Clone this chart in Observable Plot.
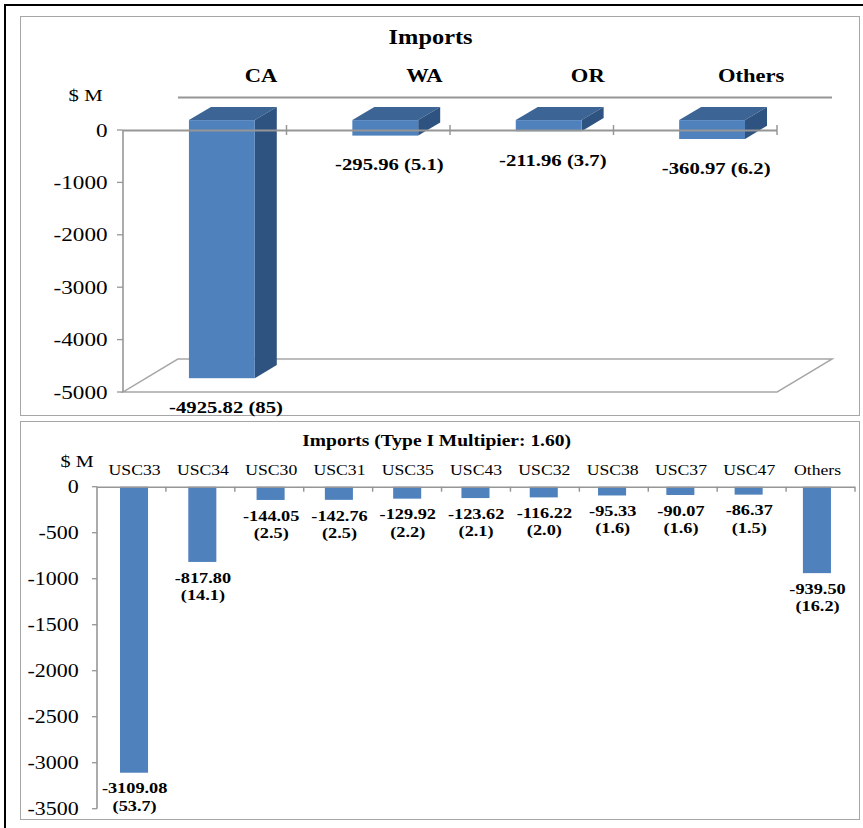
<!DOCTYPE html>
<html>
<head>
<meta charset="utf-8">
<script src="https://cdn.jsdelivr.net/npm/d3@7"></script>
<script src="https://cdn.jsdelivr.net/npm/@observablehq/plot@0.6"></script>
<style>
  body { margin: 0; background: #fff; }
  #root { position: relative; width: 863px; height: 828px; overflow: hidden; background: #fff; }
  .outer { position: absolute; left: 4px; top: 4px; width: 900px; height: 900px; border: 2px solid #000; box-sizing: border-box; }
  .panel { position: absolute; border: 1.5px solid #a6a6a6; box-sizing: border-box; }
  .chart { position: absolute; }
</style>
</head>
<body>
<div id="root">
  <div class="outer"></div>
  <div class="panel" style="left:20px;top:16px;width:840px;height:400px"></div>
  <div class="panel" style="left:20px;top:421px;width:840px;height:399px"></div>
  <div class="chart" id="top" style="left:20px;top:17px;width:839px;height:398px"></div>
  <div class="chart" id="bottom" style="left:20px;top:422px;width:839px;height:397px"></div>
</div>
<script>
// ---------- data ----------
const topTitle = "Imports";
const topStates = ["CA", "WA", "OR", "Others"];
const topValues = [-4925.82, -295.96, -211.96, -360.97];
const topShares = ["85", "5.1", "3.7", "6.2"];
const topTicks = [0, -1000, -2000, -3000, -4000, -5000];

const botTitle = "Imports (Type I Multipier: 1.60)";
const botCats = ["USC33", "USC34", "USC30", "USC31", "USC35", "USC43", "USC32", "USC38", "USC37", "USC47", "Others"];
const botValues = [-3109.08, -817.80, -144.05, -142.76, -129.92, -123.62, -116.22, -95.33, -90.07, -86.37, -939.50];
const botShares = ["53.7", "14.1", "2.5", "2.5", "2.2", "2.1", "2.0", "1.6", "1.6", "1.5", "16.2"];
const botTicks = [0, -500, -1000, -1500, -2000, -2500, -3000, -3500];
const unitLabel = "$ M";

// ---------- layout ----------
const W = 688;              // local svg width
const S = 839 / W;          // horizontal stretch applied to the svg
const FONT = "'Liberation Serif', 'Times New Roman', serif";
const BLUE = "#4F81BD", TOPC = "#3C6596", SIDEC = "#2E5380";
const AXIS = "#969696";

const topData = topStates.map((st, i) => ({st, value: topValues[i], share: topShares[i]}));
const botData = botCats.map((c, i) => ({cat: c, value: botValues[i], share: botShares[i]}));

function finish(svg, el) {
  svg.style.transform = `scaleX(${S})`;
  svg.style.transformOrigin = "0 0";
  svg.style.background = "transparent";
  svg.style.maxWidth = "none";
  svg.style.overflow = "visible";
  svg.style.fontFamily = FONT;
  document.getElementById(el).appendChild(svg);
}

// ---------- top 3D chart ----------
const DX = 55 / S, DY = 33;        // full depth offset (local)
const D0 = 0.3, D1 = 0.7;          // bar depth range

function topDecor(index, scales, values, dims) {
  const {y} = scales;
  const L = dims.marginLeft, R = dims.width - dims.marginRight;
  const g = d3.create("svg:g");
  const yb = y(-5000);
  g.append("path")
    .attr("d", `M${L},${yb}L${L + DX},${yb - DY}L${R + DX},${yb - DY}L${R},${yb}Z`)
    .attr("fill", "none").attr("stroke", "#a6a6a6").attr("stroke-width", 1.5);
  g.append("line").attr("x1", L).attr("x2", L).attr("y1", y(0)).attr("y2", yb)
    .attr("stroke", AXIS).attr("stroke-width", 1.3);
  for (const t of topTicks) {
    g.append("line").attr("x1", L - 6 / S).attr("x2", L).attr("y1", y(t)).attr("y2", y(t))
      .attr("stroke", AXIS).attr("stroke-width", 1.3);
  }
  return g.node();
}

function topFaces(index, scales) {
  const {x, y} = scales;
  const bw = x.bandwidth();
  const g = d3.create("svg:g");
  const P = (xx, yy, d) => `${xx + d * DX},${yy - d * DY}`;
  topData.forEach(d => {
    const x1 = x(d.st), x2 = x1 + bw, y0 = y(0), yv = y(d.value);
    g.append("polygon").attr("points", [P(x1, y0, D0), P(x2, y0, D0), P(x2, y0, D1), P(x1, y0, D1)].join(" "))
      .attr("fill", TOPC);
    g.append("polygon").attr("points", [P(x2, y0, D0), P(x2, y0, D1), P(x2, yv, D1), P(x2, yv, D0)].join(" "))
      .attr("fill", SIDEC);
  });
  return g.node();
}

function topFrontTicks(index, scales, values, dims) {
  const {y} = scales;
  const L = dims.marginLeft, R = dims.width - dims.marginRight;
  const n = topStates.length, step = (R - L) / n;
  const g = d3.create("svg:g");
  for (let i = 1; i <= n; i++) {
    const xx = L + i * step;
    g.append("line").attr("x1", xx).attr("x2", xx).attr("y1", y(0) - 5).attr("y2", y(0) + 5)
      .attr("stroke", AXIS).attr("stroke-width", 1.2);
  }
  return g.node();
}

const topPlot = Plot.plot({
  width: W, height: 398,
  marginTop: 113, marginBottom: 23, marginLeft: 103 / S, marginRight: 82 / S,
  x: {domain: topStates, paddingInner: 0.6, paddingOuter: 0.3, axis: null},
  y: {domain: [-5000, 0], axis: null},
  marks: [
    topDecor,
    Plot.ruleY([0], {dx: DX, dy: -DY, stroke: AXIS, strokeWidth: 2}),
    topFaces,
    Plot.barY(topData, {x: "st", y: "value", fill: BLUE, dx: D0 * DX, dy: -D0 * DY}),
    Plot.ruleY([0], {stroke: AXIS, strokeWidth: 2}),
    topFrontTicks,
    Plot.text(topTicks, {y: d => d, frameAnchor: "left", textAnchor: "end", dx: -16 / S,
      text: d => String(d), fontSize: 19, fontFamily: FONT, fill: "#000"}),
    Plot.text(topData, {x: "st", y: d => 0, text: "st", dx: DX, dy: -54,
      fontSize: 18.5, fontWeight: "bold", fontFamily: FONT, fill: "#000"}),
    Plot.text(topData, {x: "st", y: "value", text: d => `${d.value.toFixed(2)} (${d.share})`,
      dx: 20 / S, dy: 19, fontSize: 17, fontWeight: "bold", fontFamily: FONT, fill: "#000"}),
    Plot.text([topTitle], {frameAnchor: "top", lineAnchor: "middle", dx: -20 / S, dy: -93, text: d => d,
      fontSize: 20, fontWeight: "bold", fontFamily: FONT, fill: "#000"}),
    Plot.text([unitLabel], {frameAnchor: "top-left", lineAnchor: "middle", dx: -55 / S, dy: -35, text: d => d,
      fontSize: 17, fontFamily: FONT, fill: "#000"})
  ]
});
finish(topPlot, "top");

// ---------- bottom chart ----------
function botDecor(index, scales, values, dims) {
  const {y} = scales;
  const L = dims.marginLeft, R = dims.width - dims.marginRight;
  const n = botCats.length, step = (R - L) / n;
  const g = d3.create("svg:g");
  g.append("line").attr("x1", L).attr("x2", L).attr("y1", y(0)).attr("y2", y(-3500))
    .attr("stroke", AXIS).attr("stroke-width", 1.3);
  for (const t of botTicks) {
    g.append("line").attr("x1", L - 5 / S).attr("x2", L).attr("y1", y(t)).attr("y2", y(t))
      .attr("stroke", AXIS).attr("stroke-width", 1.3);
  }
  for (let i = 1; i <= n; i++) {
    const xx = L + i * step;
    g.append("line").attr("x1", xx).attr("x2", xx).attr("y1", y(0)).attr("y2", y(0) + 5)
      .attr("stroke", AXIS).attr("stroke-width", 1.2);
  }
  return g.node();
}

const botPlot = Plot.plot({
  width: W, height: 397,
  marginTop: 64.7, marginBottom: 10.3, marginLeft: 77 / S, marginRight: 4 / S,
  x: {domain: botCats, paddingInner: 0.59, paddingOuter: 0.295, axis: null},
  y: {domain: [-3500, 0], axis: null},
  marks: [
    Plot.barY(botData, {x: "cat", y: "value", fill: BLUE}),
    Plot.ruleY([0], {stroke: AXIS, strokeWidth: 1.6}),
    botDecor,
    Plot.text(botTicks, {y: d => d, frameAnchor: "left", textAnchor: "end", dx: -19 / S,
      text: d => String(d), fontSize: 18, fontFamily: FONT, fill: "#000"}),
    Plot.text(botData, {x: "cat", y: d => 0, text: "cat", dy: -17.2,
      fontSize: 14.5, fontFamily: FONT, fill: "#000"}),
    Plot.text(botData, {x: "cat", y: "value", text: d => `${d.value.toFixed(2)}\n(${d.share})`,
      lineAnchor: "top", dy: 8, lineHeight: 1.15, fontSize: 15, fontWeight: "bold", fontFamily: FONT, fill: "#000"}),
    Plot.text([botTitle], {frameAnchor: "top", lineAnchor: "middle", dx: -40 / S, dy: -46.7, text: d => d,
      fontSize: 16, fontWeight: "bold", fontFamily: FONT, fill: "#000"}),
    Plot.text([unitLabel], {frameAnchor: "top-left", lineAnchor: "middle", dx: -37 / S, dy: -25.7, text: d => d,
      fontSize: 16.5, fontFamily: FONT, fill: "#000"})
  ]
});
finish(botPlot, "bottom");
</script>
</body>
</html>
